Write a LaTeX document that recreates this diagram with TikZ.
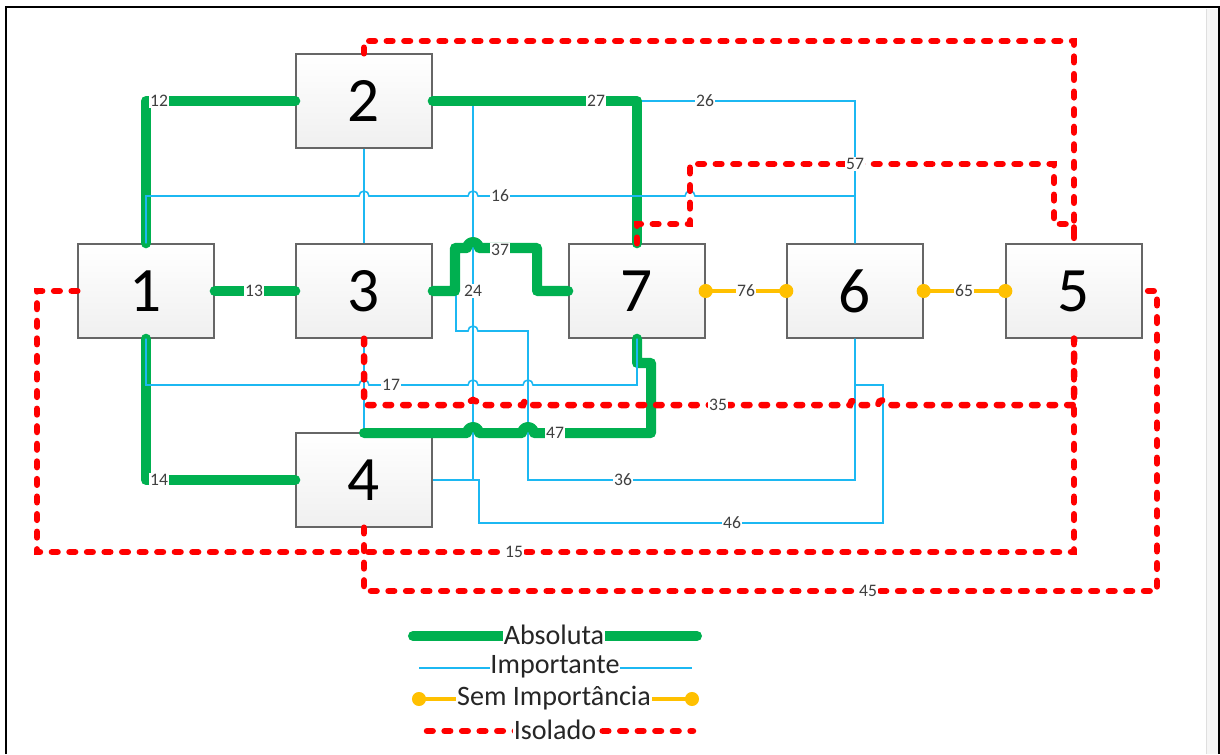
\documentclass[tikz,border=0pt]{standalone}
\usepackage{fontspec}
\setmainfont{Carlito}
\usepackage{tikz}
\usetikzlibrary{shadows,positioning,calc}
\definecolor{absg}{HTML}{00B050}
\definecolor{impb}{HTML}{1CB8F2}
\definecolor{semy}{HTML}{FFC000}
\definecolor{isor}{HTML}{FF0000}
\definecolor{txtg}{HTML}{404040}
\tikzset{
  box/.style={rectangle,draw=gray!80!black,line width=0.8pt,top color=white,bottom color=gray!12,minimum width=2.72cm,minimum height=1.88cm,font=\fontsize{36}{40}\selectfont,drop shadow={shadow xshift=0.8pt,shadow yshift=-0.8pt,opacity=0.25}},
  abso/.style={draw=absg,line width=5.7pt,line cap=round,line join=round},
  impo/.style={draw=impb,line width=0.9pt},
  semi/.style={draw=semy,line width=2pt},
  isol/.style={draw=isor,line width=3.7pt,line cap=round,dash pattern=on 3.2pt off 6.8pt},
  dot/.style={fill=semy},
  lbl/.style={fill=white,inner sep=0.8pt,text=txtg,font=\fontsize{10}{12}\selectfont},
  lg/.style={fill=white,inner sep=0.5pt,text=black!85,font=\fontsize{16}{18}\selectfont},
}

\begin{document}
\begin{tikzpicture}[x=0.02cm,y=-0.02cm]
  \useasboundingbox (0,0) rectangle (1220,754);
  % frame
  \fill[gray!7] (1206,9) rectangle (1218,754);
  \draw[gray!25] (1206,9) -- (1206,754);
  \draw[line width=1.7pt] (6,754) -- (6,7) -- (1219,7) -- (1219,754);

  % blocks
  \node[box] (n1) at (146,291) {1};
  \node[box] (n2) at (364,101) {2};
  \node[box] (n3) at (364,291) {3};
  \node[box] (n4) at (364,480) {4};
  \node[box] (n7) at (637,291) {7};
  \node[box] (n6) at (855,291) {6};
  \node[box] (n5) at (1074,291) {5};

  % importante (under)
  \draw[impo] (n2.south) -- (n3.north);
  \draw[impo] (n3.south) -- (n4.north);
  \draw[impo] (n2.east) -| (n6.north);
  \draw[impo] (n2.east) -- (473,101) |- (n4.east);
  \draw[impo] (n3.east) -- (456,291) -- (456,331) -- (468,331) arc[start angle=180,end angle=0,radius=1mm] -- (528,331) -- (528,480) -| (n6.south);
  \draw[impo] (n4.east) -- (479,480) -- (479,523) -- (883,523) -- (883,385) -| (n6.south);

  % absoluta
  \draw[abso] (n1.north) |- (n2.west);
  \draw[abso] (n1.east) -- (n3.west);
  \draw[abso] (n1.south) |- (n4.west);
  \draw[abso] (n2.east) -| (n7.north);
  \draw[abso] (n3.east) -- (455,291) -- (455,248) -- (467,248) arc[start angle=180,end angle=0,radius=1.2mm] -- (537,248) -- (537,291) -- (n7.west);
  \draw[abso] (n7.south) -- (637,363) -- (651,363) -- (651,433) -- (534,433) arc[start angle=0,end angle=180,radius=1.2mm] -- (479,433) arc[start angle=0,end angle=180,radius=1.2mm] -- (n4.north |- 0,433);

  % importante (over)
  \draw[impo] (n1.north) -- (146,196) -- (359,196) arc[start angle=180,end angle=0,radius=1mm] -- (468,196) arc[start angle=180,end angle=0,radius=1mm] -- (685,196) arc[start angle=180,end angle=0,radius=1mm] -- (855,196) -- (n6.north);
  \draw[impo] (n1.south) -- (146,385) -- (359,385) arc[start angle=180,end angle=0,radius=1mm] -- (468,385) arc[start angle=180,end angle=0,radius=1mm] -- (523,385) arc[start angle=180,end angle=0,radius=1mm] -- (637,385) -- (n7.south);

  % isolado
  \draw[isol] (n2.north) -- (364,41) -| (n5.north);
  \draw[isol] (n7.north) -- (637,224) -- (690,224) -- (690,164) -- (1054,164) -- (1054,224) -| (n5.north);
  \draw[isol] (n1.west) -- (37,291) -- (37,552) -| (n5.south);
  \draw[isol] (n3.south) -- (364,405) -- (468,405) arc[start angle=180,end angle=0,radius=1mm] -- (523,405) arc[start angle=180,end angle=0,radius=1mm] -- (850,405) arc[start angle=180,end angle=0,radius=1mm] -- (878,405) arc[start angle=180,end angle=0,radius=1mm] -- (1074,405) -- (n5.south);
  \draw[isol] (n4.south) -- (364,591) -- (1157,591) |- (n5.east);

  % sem importancia
  \draw[semi] (n7.east) -- (n6.west);
  \draw[semi] (n6.east) -- (n5.west);
  \fill[dot] (n7.east) circle (4pt) (n6.west) circle (4pt);
  \fill[dot] (n6.east) circle (4pt) (n5.west) circle (4pt);

  % labels
  \node[lbl] (l12) at (159,101) {12};
  \node[lbl] (l13) at (254,291) {13};
  \node[lbl] (l14) at (159,480) {14};
  \node[lbl] (l27) at (596,101) {27};
  \node[lbl] (l26) at (705,101) {26};
  \node[lbl] (l16) at (500,196) {16};
  \node[lbl] (l37) at (500,250) {37};
  \node[lbl] (l24) at (473,291) {24};
  \node[lbl] (l76) at (746,291) {76};
  \node[lbl] (l65) at (964,291) {65};
  \node[lbl] (l57) at (855,164) {57};
  \node[lbl] (l17) at (391,385) {17};
  \node[lbl] (l35) at (718,405) {35};
  \node[lbl] (l47) at (555,433) {47};
  \node[lbl] (l36) at (623,480) {36};
  \node[lbl] (l46) at (732,523) {46};
  \node[lbl] (l15) at (514,552) {15};
  \node[lbl] (l45) at (868,591) {45};

  % legenda
  \coordinate (a1) at (413,636);
  \coordinate (a2) at (697,636);
  \coordinate (i1) at (419,668);
  \coordinate (i2) at (692,668);
  \coordinate (s1) at (419,699);
  \coordinate (s2) at (692,699);
  \coordinate (r1) at (427,731);
  \coordinate (r2) at (693,731);
  \draw[abso] (a1) -- (a2);
  \draw[impo] (i1) -- (i2);
  \draw[semi] (s1) -- (s2);
  \fill[dot] (s1) circle (4pt) (s2) circle (4pt);
  \draw[isol] (r1) -- (r2);
  \node[lg] (la) at (554,635) {Absoluta};
  \node[lg] (li) at (555,667) {Importante};
  \node[lg] (ls) at (554,698) {Sem Importância};
  \node[lg] (lr) at (555,730) {Isolado};
\end{tikzpicture}
\end{document}
